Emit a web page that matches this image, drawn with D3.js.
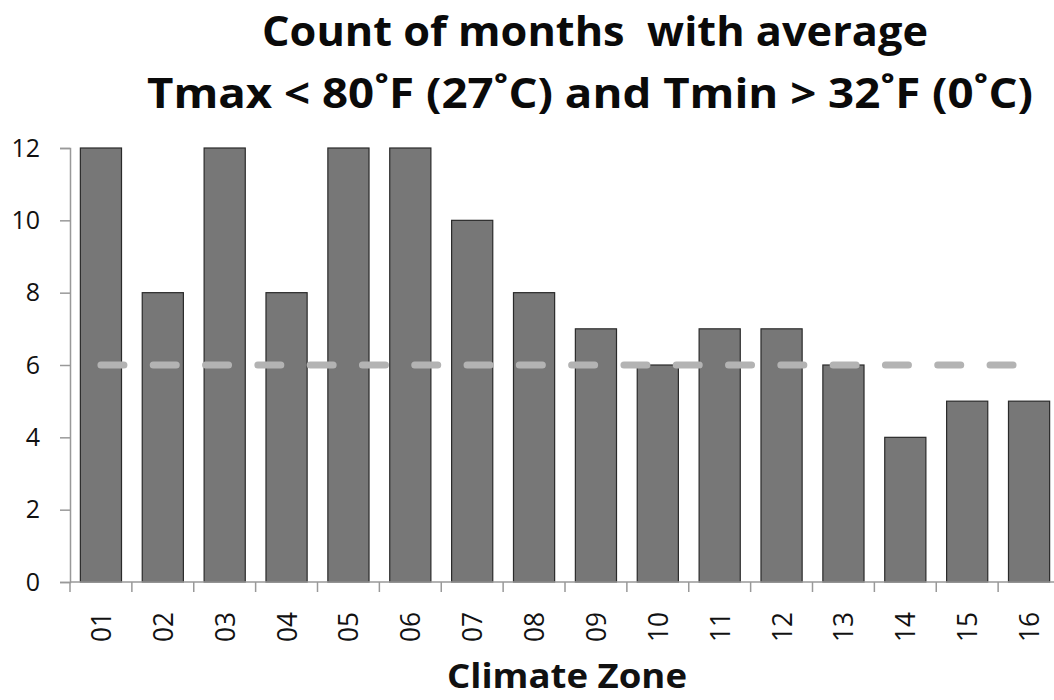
<!DOCTYPE html>
<html><head><meta charset="utf-8">
<script src="https://cdn.jsdelivr.net/npm/d3@7"></script>
<style>
html,body{margin:0;padding:0;background:#fff;}
svg{display:block;}
text{font-family:"Open Sans","DejaVu Sans",sans-serif;}
</style></head>
<body>
<svg id="chart" width="1054" height="700"></svg>
<script>
const categories = ["01","02","03","04","05","06","07","08","09","10","11","12","13","14","15","16"];
const counts = [12,8,12,8,12,12,10,8,7,6,7,7,6,4,5,5];
const yTicks = [0,2,4,6,8,10,12];
const threshold = 6;
const titleLines = ["Count of months  with average", "Tmax < 80˚F (27˚C) and Tmin > 32˚F (0˚C)"];
const xTitle = "Climate Zone";

const svg = d3.select("#chart");
const mLeft = 70, mRight = 1060, mTop = 148, mBottom = 582;

const x = d3.scaleBand().domain(categories).range([mLeft, mRight]).paddingInner(0.335).paddingOuter(0.1675);
const y = d3.scaleLinear().domain([0, 12]).range([mBottom, mTop]);

// bars
svg.append("g").selectAll("rect").data(counts).join("rect")
  .attr("x", (d,i) => x(categories[i]))
  .attr("width", x.bandwidth())
  .attr("y", d => y(d))
  .attr("height", d => y(0) - y(d))
  .attr("fill", "#777777")
  .attr("stroke", "#2a2a2a")
  .attr("stroke-width", 1.2);

// threshold dashed line
const dash = 23, gap = 29.3;
const lx0 = x(categories[0]) + x.bandwidth() / 2;
const lx1 = lx0 + 17 * (dash + gap) + dash;
svg.append("line")
  .attr("x1", lx0).attr("x2", lx1)
  .attr("y1", y(threshold)).attr("y2", y(threshold))
  .attr("stroke", "#b3b3b3")
  .attr("stroke-width", 7)
  .attr("stroke-linecap", "round")
  .attr("stroke-dasharray", `${dash},${gap}`);

// y axis
const yAxis = svg.append("g").attr("transform", `translate(${mLeft},0)`)
  .call(d3.axisLeft(y).tickValues(yTicks).tickSize(10).tickPadding(20).tickFormat(d3.format("d")));
yAxis.select(".domain").attr("stroke", "#999").attr("stroke-width", 1.5);
yAxis.selectAll(".tick line").attr("stroke", "#999").attr("stroke-width", 1.5);
yAxis.selectAll(".tick text").attr("font-size", 25).attr("fill", "#111")
  .style("font-family", '"Open Sans",sans-serif');

// x axis
const xAxisG = svg.append("g").attr("transform", `translate(0,${mBottom})`);
xAxisG.append("line").attr("x1", mLeft).attr("x2", 1054).attr("y1", 0).attr("y2", 0)
  .attr("stroke", "#999").attr("stroke-width", 1.5);
const bounds = categories.map(c => x(c) - x.step() * x.paddingInner() / 2);
xAxisG.selectAll("line.tk").data(bounds).join("line").attr("class", "tk")
  .attr("x1", d => d).attr("x2", d => d).attr("y1", 0).attr("y2", 10)
  .attr("stroke", "#999").attr("stroke-width", 1.5);
xAxisG.selectAll("text.lbl").data(categories).join("text").attr("class", "lbl")
  .attr("transform", d => `translate(${x(d) + x.bandwidth()/2 + 10},30) rotate(-90)`)
  .attr("text-anchor", "end")
  .attr("font-size", 28)
  .attr("textLength", 30)
  .attr("lengthAdjust", "spacingAndGlyphs")
  .attr("fill", "#111")
  .text(d => d);

// x title
svg.append("text").attr("x", 567).attr("y", 688)
  .attr("text-anchor", "middle").attr("font-size", 34).attr("font-weight", "bold")
  .attr("textLength", 240).attr("lengthAdjust", "spacingAndGlyphs")
  .attr("fill", "#111").text(xTitle);

// title
const tl = [{t: titleLines[0], y: 46, w: 666, cx: 595}, {t: titleLines[1], y: 108, w: 886, cx: 590}];
tl.forEach(o => {
  svg.append("text").attr("x", o.cx).attr("y", o.y).attr("text-anchor", "middle")
    .attr("xml:space", "preserve").style("white-space", "pre")
    .attr("font-size", 42).attr("font-weight", "bold").attr("fill", "#0a0a0a")
    .attr("textLength", o.w).attr("lengthAdjust", "spacingAndGlyphs")
    .text(o.t);
});
</script>
</body></html>
